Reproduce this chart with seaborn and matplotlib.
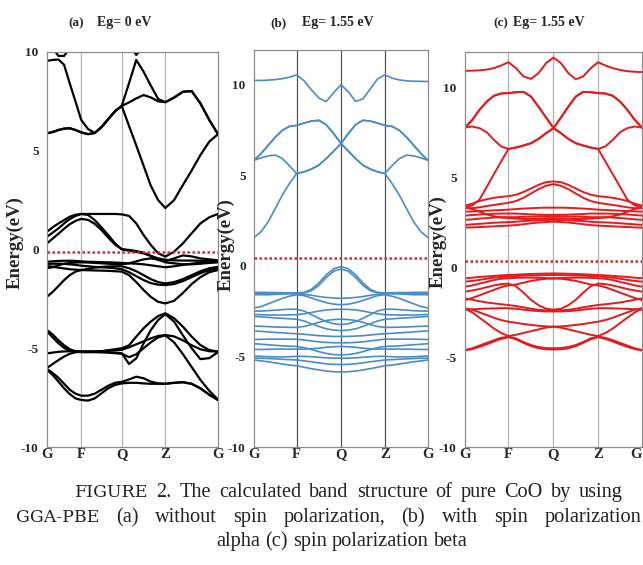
import numpy as np
import pandas as pd
import matplotlib
matplotlib.use("Agg")
import matplotlib.pyplot as plt
import seaborn as sns

# ---- k-path sample positions (fraction of path length) ----
k_a = [0.0, 0.033, 0.067, 0.1, 0.133, 0.167, 0.2,
       0.24, 0.279, 0.319, 0.358, 0.398, 0.437,
       0.48, 0.522, 0.565, 0.607, 0.65, 0.692,
       0.743, 0.795, 0.846, 0.897, 0.949, 1.0]
k_bc = [0.0, 0.041, 0.082, 0.123, 0.163, 0.204, 0.245,
        0.288, 0.33, 0.373, 0.415, 0.458, 0.5,
        0.542, 0.584, 0.626, 0.668, 0.71, 0.752,
        0.793, 0.835, 0.876, 0.917, 0.959, 1.0]
sym_a = [0.0, 0.2, 0.437, 0.692, 1.0]
sym_bc = [0.0, 0.245, 0.5, 0.752, 1.0]
sym_labels = ["G", "F", "Q", "Z", "G"]

# ---- (a) without spin polarization ----
a_bands = {
    "c1": [5.88, 5.95, 6.05, 6.12, 6.14, 6.05, 5.93, 5.84, 5.9, 6.2, 6.6, 7.0, 7.27,
           7.45, 7.65, 7.82, 7.7, 7.5, 7.46, 7.69, 7.99, 8.02, 7.4, 6.56, 5.84],
    "c2": [9.55, 9.6, 9.62, 9.35, 8.41, 7.48, 6.56, 6.1, 5.9, 6.2, 6.6, 7.0, 7.27,
           6.25, 5.27, 4.24, 3.23, 2.5, 2.1, 2.5, 3.27, 4.0, 4.78, 5.46, 5.84],
    "c3": [5.88, 5.95, 6.05, 6.12, 6.14, 6.05, 5.93, 5.84, 5.9, 6.2, 6.6, 7.0, 7.27,
           8.43, 9.6, 9.0, 8.3, 7.62, 7.46, 7.69, 7.99, 8.02, 7.4, 6.56, 5.84],
    "c4": [10.6, 10.2, 9.8, 9.8, 10.2, 10.7, 11.0, 11.2, 11.3, 11.3, 11.2, 11.0, 10.8,
           10.4, 9.85, 10.3, 10.8, 11.0, 11.1, 11.2, 11.3, 11.3, 11.2, 11.1, 11.0],
    "v1": [0.9, 1.12, 1.32, 1.49, 1.66, 1.76, 1.8, 1.8, 1.8, 1.8, 1.8, 1.8, 1.78,
           1.7, 1.32, 0.73, 0.23, -0.19, -0.36, -0.11, 0.31, 0.82, 1.32, 1.63, 1.8],
    "v2": [0.65, 0.85, 1.07, 1.32, 1.54, 1.7, 1.8, 1.75, 1.49, 1.12, 0.73, 0.31, 0.01,
           -0.02, -0.08, -0.16, -0.33, -0.53, -0.6, -0.45, -0.3, -0.35, -0.45, -0.5, -0.55],
    "v3": [0.31, 0.55, 0.8, 1.05, 1.28, 1.45, 1.55, 1.5, 1.3, 0.98, 0.6, 0.25, 0.02,
           -0.06, -0.12, -0.2, -0.32, -0.45, -0.52, -0.55, -0.56, -0.56, -0.57, -0.58, -0.58],
    "m1": [-0.62, -0.6, -0.58, -0.57, -0.57, -0.58, -0.6, -0.62, -0.63, -0.64, -0.65, -0.66, -0.68,
           -0.7, -0.72, -0.75, -0.8, -0.85, -0.9, -0.85, -0.78, -0.72, -0.66, -0.62, -0.6],
    "m2": [-0.73, -0.72, -0.72, -0.73, -0.75, -0.78, -0.82, -0.85, -0.88, -0.9, -0.92, -0.95, -1.0,
           -1.15, -1.35, -1.55, -1.7, -1.78, -1.8, -1.75, -1.6, -1.4, -1.2, -1.05, -0.95],
    "m3": [-0.84, -0.87, -0.92, -0.96, -1.0, -1.02, -1.04, -1.05, -1.06, -1.07, -1.08, -1.1, -1.12,
           -1.3, -1.65, -2.05, -2.4, -2.65, -2.73, -2.6, -2.2, -1.75, -1.4, -1.15, -1.04],
    "m4": [-2.39, -2.15, -1.85, -1.55, -1.3, -1.12, -1.04, -0.98, -0.92, -0.88, -0.86, -0.85, -0.85,
           -0.95, -1.1, -1.3, -1.5, -1.65, -1.72, -1.65, -1.5, -1.3, -1.1, -0.95, -0.88],
    "m5": [-0.95, -0.9, -0.8, -0.72, -0.68, -0.66, -0.65, -0.66, -0.68, -0.7, -0.72, -0.74, -0.75,
           -0.7, -0.6, -0.5, -0.45, -0.5, -0.65, -0.7, -0.75, -0.75, -0.72, -0.68, -0.65],
    "l1": [-4.08, -4.3, -4.6, -4.85, -5.05, -5.15, -5.17, -5.17, -5.17, -5.15, -5.1, -5.05, -5.0,
           -4.85, -4.41, -3.99, -3.65, -3.37, -3.23, -3.48, -3.91, -4.41, -4.84, -5.09, -5.17],
    "l2": [-4.15, -4.45, -4.75, -4.98, -5.12, -5.18, -5.2, -5.2, -5.2, -5.2, -5.2, -5.22, -5.25,
           -5.8, -5.51, -4.75, -4.08, -3.57, -3.27, -3.65, -4.35, -5.0, -5.55, -5.5, -5.2],
    "l3": [-5.26, -5.22, -5.18, -5.16, -5.15, -5.15, -5.17, -5.17, -5.16, -5.15, -5.12, -5.1, -5.08,
           -4.95, -4.8, -4.65, -4.5, -4.38, -4.33, -4.4, -4.6, -4.85, -5.05, -5.15, -5.17],
    "l4": [-6.0, -5.8, -5.6, -5.42, -5.28, -5.2, -5.17, -5.17, -5.18, -5.2, -5.22, -5.25, -5.28,
           -5.45, -5.3, -5.0, -4.7, -4.45, -4.35, -4.7, -5.3, -5.95, -6.6, -7.15, -7.6],
    "l5": [-6.1, -6.35, -6.69, -7.03, -7.32, -7.54, -7.62, -7.65, -7.54, -7.28, -7.03, -6.86, -6.78,
           -6.75, -6.75, -6.78, -6.8, -6.8, -6.8, -6.75, -6.72, -6.8, -7.03, -7.35, -7.62],
    "l6": [-6.05, -6.25, -6.5, -6.8, -7.1, -7.3, -7.4, -7.4, -7.3, -7.1, -6.9, -6.75, -6.7,
           -6.58, -6.44, -6.52, -6.69, -6.78, -6.8, -6.75, -6.72, -6.8, -7.03, -7.35, -7.62],
}

# ---- (b) spin polarization alpha ----
b_bands = {
    "c1": [10.22, 10.22, 10.24, 10.27, 10.32, 10.4, 10.53, 10.2, 9.7, 9.25, 9.05, 9.55, 9.98,
           9.6, 9.06, 9.2, 9.75, 10.3, 10.53, 10.35, 10.25, 10.2, 10.18, 10.17, 10.16],
    "c2": [5.82, 5.95, 6.06, 6.1, 5.91, 5.51, 5.09, 5.18, 5.33, 5.55, 5.91, 6.32, 6.74,
           7.29, 7.78, 8.02, 7.98, 7.87, 7.74, 7.69, 7.47, 7.1, 6.65, 6.19, 5.82],
    "c3": [1.55, 1.88, 2.43, 3.17, 3.9, 4.54, 5.09, 5.18, 5.33, 5.55, 5.91, 6.32, 6.74,
           7.29, 7.78, 8.02, 7.98, 7.87, 7.74, 7.69, 7.47, 7.1, 6.65, 6.19, 5.82],
    "c4": [5.82, 6.19, 6.65, 7.1, 7.47, 7.69, 7.74, 7.87, 7.98, 8.02, 7.78, 7.29, 6.74,
           6.32, 5.91, 5.55, 5.33, 5.18, 5.09, 4.54, 3.9, 3.17, 2.43, 1.88, 1.55],
    "c5": [5.82, 6.19, 6.65, 7.1, 7.47, 7.69, 7.74, 7.87, 7.98, 8.02, 7.78, 7.29, 6.74,
           6.32, 5.91, 5.55, 5.33, 5.18, 5.09, 5.51, 5.91, 6.1, 6.06, 5.95, 5.82],
    "v1": [-1.47, -1.47, -1.48, -1.48, -1.49, -1.5, -1.5, -1.47, -1.3, -0.95, -0.5, -0.17, -0.04,
           -0.17, -0.5, -0.95, -1.3, -1.47, -1.5, -1.49, -1.48, -1.48, -1.47, -1.47, -1.47],
    "v2": [-1.55, -1.54, -1.53, -1.52, -1.52, -1.52, -1.52, -1.5, -1.38, -1.08, -0.65, -0.3, -0.18,
           -0.3, -0.65, -1.08, -1.38, -1.5, -1.52, -1.52, -1.52, -1.52, -1.53, -1.54, -1.55],
    "v3": [-1.6, -1.6, -1.6, -1.58, -1.56, -1.55, -1.55, -1.58, -1.63, -1.7, -1.75, -1.78, -1.8,
           -1.78, -1.75, -1.7, -1.63, -1.58, -1.55, -1.55, -1.56, -1.58, -1.6, -1.6, -1.6],
    "v4": [-2.33, -2.25, -2.1, -1.95, -1.8, -1.68, -1.6, -1.65, -1.78, -1.92, -2.04, -2.12, -2.15,
           -2.12, -2.04, -1.92, -1.78, -1.65, -1.6, -1.68, -1.8, -1.95, -2.1, -2.25, -2.33],
    "v5": [-2.5, -2.5, -2.48, -2.45, -2.42, -2.4, -2.4, -2.5, -2.7, -2.9, -3.08, -3.2, -3.25,
           -3.2, -3.08, -2.9, -2.7, -2.5, -2.4, -2.4, -2.42, -2.45, -2.48, -2.5, -2.5],
    "v6": [-2.69, -2.7, -2.72, -2.72, -2.72, -2.71, -2.7, -2.65, -2.58, -2.5, -2.44, -2.41, -2.4,
           -2.41, -2.44, -2.5, -2.58, -2.65, -2.7, -2.71, -2.72, -2.72, -2.72, -2.7, -2.69],
    "v7": [-2.8, -2.82, -2.85, -2.88, -2.9, -2.93, -2.95, -3.05, -3.2, -3.35, -3.48, -3.55, -3.58,
           -3.55, -3.48, -3.35, -3.2, -3.05, -2.95, -2.93, -2.9, -2.88, -2.85, -2.82, -2.8],
    "v8": [-3.33, -3.34, -3.36, -3.38, -3.39, -3.4, -3.4, -3.35, -3.25, -3.12, -3.02, -2.97, -2.95,
           -2.97, -3.02, -3.12, -3.25, -3.35, -3.4, -3.4, -3.39, -3.38, -3.36, -3.34, -3.33],
    "v9": [-3.6, -3.62, -3.65, -3.68, -3.7, -3.73, -3.75, -3.78, -3.82, -3.86, -3.88, -3.9, -3.9,
           -3.9, -3.88, -3.86, -3.82, -3.78, -3.75, -3.73, -3.7, -3.68, -3.65, -3.62, -3.6],
    "v10": [-4.07, -4.06, -4.05, -4.05, -4.05, -4.05, -4.05, -4.1, -4.15, -4.2, -4.23, -4.25, -4.25,
            -4.25, -4.23, -4.2, -4.15, -4.1, -4.05, -4.05, -4.05, -4.05, -4.05, -4.06, -4.07],
    "v11": [-4.3, -4.33, -4.36, -4.39, -4.42, -4.44, -4.45, -4.52, -4.62, -4.74, -4.84, -4.9, -4.92,
            -4.9, -4.84, -4.74, -4.62, -4.52, -4.45, -4.44, -4.42, -4.39, -4.36, -4.33, -4.3],
    "v12": [-4.62, -4.62, -4.61, -4.6, -4.6, -4.6, -4.6, -4.6, -4.58, -4.55, -4.5, -4.47, -4.45,
            -4.47, -4.5, -4.55, -4.58, -4.6, -4.6, -4.6, -4.6, -4.6, -4.61, -4.62, -4.62],
    "v13": [-4.98, -5.0, -5.02, -5.03, -5.03, -5.02, -5.0, -5.0, -5.02, -5.05, -5.08, -5.1, -5.1,
            -5.1, -5.08, -5.05, -5.02, -5.0, -5.0, -5.02, -5.03, -5.03, -5.02, -5.0, -4.98],
    "v14": [-5.2, -5.25, -5.3, -5.36, -5.42, -5.48, -5.52, -5.6, -5.68, -5.75, -5.81, -5.85, -5.86,
            -5.85, -5.81, -5.75, -5.68, -5.6, -5.52, -5.48, -5.42, -5.36, -5.3, -5.25, -5.2],
    "v15": [-5.1, -5.1, -5.12, -5.14, -5.16, -5.18, -5.2, -5.25, -5.3, -5.36, -5.41, -5.44, -5.45,
            -5.44, -5.41, -5.36, -5.3, -5.25, -5.2, -5.18, -5.16, -5.14, -5.12, -5.1, -5.1],
}

# ---- (c) spin polarization beta ----
c_bands = {
    "c1": [10.95, 10.96, 10.98, 11.02, 11.1, 11.25, 11.43, 11.1, 10.64, 10.5, 10.82, 11.38, 11.69,
           11.38, 10.82, 10.48, 10.64, 11.1, 11.43, 11.25, 11.1, 11.0, 10.93, 10.9, 10.88],
    "c2": [7.79, 7.85, 7.76, 7.53, 7.11, 6.74, 6.6, 6.68, 6.79, 6.92, 7.16, 7.48, 7.76,
           8.35, 8.96, 9.52, 9.78, 9.76, 9.71, 9.69, 9.56, 9.24, 8.78, 8.22, 7.79],
    "c3": [3.36, 3.45, 3.78, 4.49, 5.19, 5.9, 6.6, 6.68, 6.79, 6.92, 7.16, 7.48, 7.76,
           8.35, 8.96, 9.52, 9.78, 9.76, 9.71, 9.69, 9.56, 9.24, 8.78, 8.22, 7.79],
    "c4": [7.79, 8.22, 8.78, 9.24, 9.56, 9.69, 9.71, 9.76, 9.78, 9.52, 8.96, 8.35, 7.76,
           7.48, 7.16, 6.92, 6.79, 6.68, 6.6, 5.9, 5.19, 4.49, 3.78, 3.45, 3.36],
    "c5": [7.79, 8.22, 8.78, 9.24, 9.56, 9.69, 9.71, 9.76, 9.78, 9.52, 8.96, 8.35, 7.76,
           7.48, 7.16, 6.92, 6.79, 6.68, 6.6, 6.74, 7.11, 7.53, 7.76, 7.85, 7.79],
    "ca": [3.45, 3.55, 3.7, 3.8, 3.88, 3.93, 3.97, 4.05, 4.2, 4.4, 4.6, 4.75, 4.79,
           4.75, 4.6, 4.4, 4.2, 4.05, 3.97, 3.93, 3.88, 3.8, 3.7, 3.55, 3.45],
    "cb": [3.3, 3.3, 3.35, 3.42, 3.48, 3.54, 3.6, 3.7, 3.88, 4.12, 4.36, 4.55, 4.64,
           4.55, 4.36, 4.12, 3.88, 3.7, 3.6, 3.54, 3.48, 3.42, 3.35, 3.3, 3.3],
    "cc": [3.11, 3.12, 3.14, 3.16, 3.18, 3.2, 3.22, 3.25, 3.28, 3.3, 3.32, 3.33, 3.33,
           3.33, 3.32, 3.3, 3.28, 3.25, 3.22, 3.2, 3.18, 3.16, 3.14, 3.12, 3.11],
    "cd": [2.89, 2.92, 2.95, 2.97, 2.99, 3.0, 3.0, 3.0, 2.98, 2.96, 2.94, 2.93, 2.93,
           2.93, 2.94, 2.96, 2.98, 3.0, 3.0, 3.0, 2.99, 2.97, 2.95, 2.92, 2.89],
    "ce": [2.65, 2.68, 2.72, 2.75, 2.78, 2.8, 2.8, 2.8, 2.82, 2.83, 2.84, 2.85, 2.85,
           2.85, 2.84, 2.83, 2.82, 2.8, 2.8, 2.8, 2.78, 2.75, 2.72, 2.68, 2.65],
    "cf": [2.37, 2.4, 2.43, 2.46, 2.49, 2.51, 2.52, 2.55, 2.58, 2.61, 2.63, 2.64, 2.65,
           2.64, 2.63, 2.61, 2.58, 2.55, 2.52, 2.51, 2.49, 2.46, 2.43, 2.4, 2.37],
    "cg": [2.22, 2.23, 2.25, 2.27, 2.29, 2.31, 2.33, 2.36, 2.41, 2.46, 2.5, 2.53, 2.55,
           2.53, 2.5, 2.46, 2.41, 2.36, 2.33, 2.31, 2.29, 2.27, 2.25, 2.23, 2.22],
    "ch": [3.35, 3.25, 3.1, 2.95, 2.85, 2.78, 2.75, 2.72, 2.7, 2.7, 2.72, 2.74, 2.75,
           2.74, 2.72, 2.7, 2.7, 2.72, 2.75, 2.78, 2.85, 2.95, 3.1, 3.25, 3.35],
    "v1": [-0.6, -0.57, -0.53, -0.5, -0.47, -0.44, -0.42, -0.4, -0.38, -0.36, -0.35, -0.34, -0.33,
           -0.34, -0.35, -0.36, -0.38, -0.4, -0.42, -0.44, -0.47, -0.5, -0.53, -0.57, -0.6],
    "v2": [-0.79, -0.75, -0.69, -0.63, -0.57, -0.53, -0.5, -0.48, -0.46, -0.45, -0.44, -0.43, -0.42,
           -0.43, -0.44, -0.45, -0.46, -0.48, -0.5, -0.53, -0.57, -0.63, -0.69, -0.75, -0.79],
    "v3": [-1.07, -1.0, -0.9, -0.8, -0.7, -0.63, -0.6, -0.58, -0.57, -0.57, -0.58, -0.59, -0.6,
           -0.59, -0.58, -0.57, -0.57, -0.58, -0.6, -0.63, -0.7, -0.8, -0.9, -1.0, -1.07],
    "v4": [-1.35, -1.28, -1.2, -1.1, -1.0, -0.93, -0.9, -1.05, -1.4, -1.8, -2.1, -2.3, -2.35,
           -2.3, -2.1, -1.8, -1.4, -1.05, -0.9, -0.93, -1.0, -1.1, -1.2, -1.28, -1.35],
    "v5": [-1.72, -1.8, -1.88, -1.95, -2.0, -2.05, -2.09, -2.15, -2.22, -2.3, -2.36, -2.39, -2.4,
           -2.39, -2.36, -2.3, -2.22, -2.15, -2.09, -2.05, -2.0, -1.95, -1.88, -1.8, -1.72],
    "v6": [-1.82, -1.7, -1.55, -1.4, -1.25, -1.1, -1.0, -0.95, -0.85, -0.75, -0.68, -0.63, -0.62,
           -0.63, -0.68, -0.75, -0.85, -0.95, -1.0, -1.1, -1.25, -1.4, -1.55, -1.7, -1.82],
    "v7": [-2.27, -2.35, -2.5, -2.65, -2.8, -2.93, -3.02, -3.08, -3.15, -3.2, -3.25, -3.28, -3.3,
           -3.35, -3.45, -3.55, -3.65, -3.75, -3.82, -3.65, -3.4, -3.1, -2.8, -2.5, -2.3],
    "v8": [-2.35, -2.33, -2.31, -2.29, -2.28, -2.27, -2.27, -2.3, -2.35, -2.4, -2.43, -2.45, -2.45,
           -2.45, -2.43, -2.4, -2.35, -2.3, -2.27, -2.27, -2.28, -2.29, -2.31, -2.33, -2.35],
    "v9": [-2.3, -2.5, -2.8, -3.1, -3.4, -3.65, -3.82, -3.75, -3.65, -3.55, -3.45, -3.35, -3.3,
           -3.28, -3.25, -3.2, -3.15, -3.08, -3.02, -2.93, -2.8, -2.65, -2.5, -2.35, -2.27],
    "v10": [-4.6, -4.5, -4.35, -4.2, -4.05, -3.92, -3.85, -3.95, -4.15, -4.32, -4.43, -4.49, -4.5,
            -4.49, -4.43, -4.32, -4.15, -3.95, -3.85, -3.92, -4.05, -4.2, -4.35, -4.5, -4.6],
    "v11": [-4.62, -4.55, -4.42, -4.28, -4.12, -3.98, -3.88, -4.0, -4.2, -4.38, -4.5, -4.56, -4.57,
            -4.56, -4.5, -4.38, -4.2, -4.0, -3.88, -3.98, -4.12, -4.28, -4.42, -4.55, -4.62],
}

fermi = [-0.11, 0.4, 0.37]
titles = [("(a)", "Eg= 0 eV"), ("(b)", "Eg= 1.55 eV"), ("(c)", "Eg= 1.55 eV")]
caption_lines = [
    "FIGURE 2. The calculated band structure of pure CoO by using",
    "GGA-PBE (a) without spin polarization, (b) with spin polarization",
    "alpha (c) spin polarization beta",
]
small_caps = {"FIGURE", "GGA-PBE"}


def to_frame(bands, kpts):
    rows = []
    for name, vals in bands.items():
        rows.append(pd.DataFrame({"k": kpts, "E": vals, "band": name}))
    return pd.concat(rows, ignore_index=True)


sns.set_theme(style="white")
plt.rcParams["font.family"] = ["Liberation Serif", "DejaVu Serif"]

W, H = 643, 565
fig = plt.figure(figsize=(W / 100, H / 100), dpi=100)

# axes boxes in pixels: left, right, top, bottom
boxes = [(47, 218, 52, 447), (254, 428, 50, 447), (465, 642, 52, 447)]
ylims = [(-10, 10), (-10, 11.9), (-10, 12.0)]
colors = ["#000000", "#4a8bc9", "#e41a1c"]
widths = [1.6, 1.2, 1.4]
vcols = ["#b5b5b5", "#555555", "#b0b0b0"]
data = [(a_bands, k_a, sym_a), (b_bands, k_bc, sym_bc), (c_bands, k_bc, sym_bc)]
title_x = [(68, 97), (270, 302), (493, 513)]
label_pos = [(24, 243), (235, 245), (447, 242)]

for i, (bands, kpts, sym) in enumerate(data):
    l, r, t, b = boxes[i]
    ax = fig.add_axes([l / W, 1 - b / H, (r - l) / W, (b - t) / H])
    for x in sym[1:-1]:
        ax.axvline(x, color=vcols[i], lw=0.9, zorder=0)
    df = to_frame(bands, kpts)
    sns.lineplot(data=df, x="k", y="E", units="band", estimator=None, sort=False,
                 color=colors[i], linewidth=widths[i], ax=ax, legend=False)
    ax.axhline(fermi[i], color="#d42a2a", lw=1.8, ls=(0, (1, 1)), zorder=3)
    ax.set_xlim(0, 1)
    ax.set_ylim(*ylims[i])
    ax.set_xticks(sym)
    ax.set_xticklabels(sym_labels, fontsize=10.5, fontweight="bold")
    ax.set_yticks([-10, -5, 0, 5, 10])
    ax.set_yticklabels(["-10", "-5", "0", "5", "10"], fontsize=9.5, fontweight="bold")
    ax.tick_params(axis="y", length=0, pad=6)
    ax.tick_params(axis="x", length=0, pad=0.5)
    if i == 2:
        ax.get_xticklabels()[-1].set_ha("right")
    ax.set_xlabel("")
    ax.set_ylabel("Energy(eV)", fontsize=13.5, fontweight="bold")
    lx, ly = label_pos[i]
    ax.yaxis.set_label_coords(lx / W, 1 - ly / H, transform=fig.transFigure)
    for s in ax.spines.values():
        s.set_color("#8c8c8c")
        s.set_linewidth(0.9)
    tx1, tx2 = title_x[i]
    fig.text(tx1 / W, 1 - 26 / H, titles[i][0], fontsize=9.5, fontweight="bold", va="baseline")
    fig.text(tx2 / W, 1 - 26 / H, titles[i][1], fontsize=10, fontweight="bold", va="baseline")

# caption: justified first two lines, centred last line
renderer = fig.canvas.get_renderer()
layout = [(497, "justify", 75, 623), (522, "justify", 16, 641), (546, "center", 342, None)]
for line, (base, mode, p1, p2) in zip(caption_lines, layout):
    words = line.split(" ")
    texts = []
    for w in words:
        if w in small_caps:
            tt = fig.text(0, 1 - base / H, w, fontsize=12.5, family="DejaVu Serif",
                          va="baseline", ha="left", color="#222222")
        else:
            tt = fig.text(0, 1 - base / H, w, fontsize=14.6,
                          va="baseline", ha="left", color="#222222")
        texts.append(tt)
    ws = [tt.get_window_extent(renderer).width for tt in texts]
    if mode == "justify":
        gap = (p2 - p1 - sum(ws)) / (len(ws) - 1)
        x = p1
    else:
        gap = 5.0
        x = p1 - (sum(ws) + gap * (len(ws) - 1)) / 2
    for tt, w in zip(texts, ws):
        tt.set_x(x / W)
        x += w + gap

fig.savefig("out.png", dpi=100)
